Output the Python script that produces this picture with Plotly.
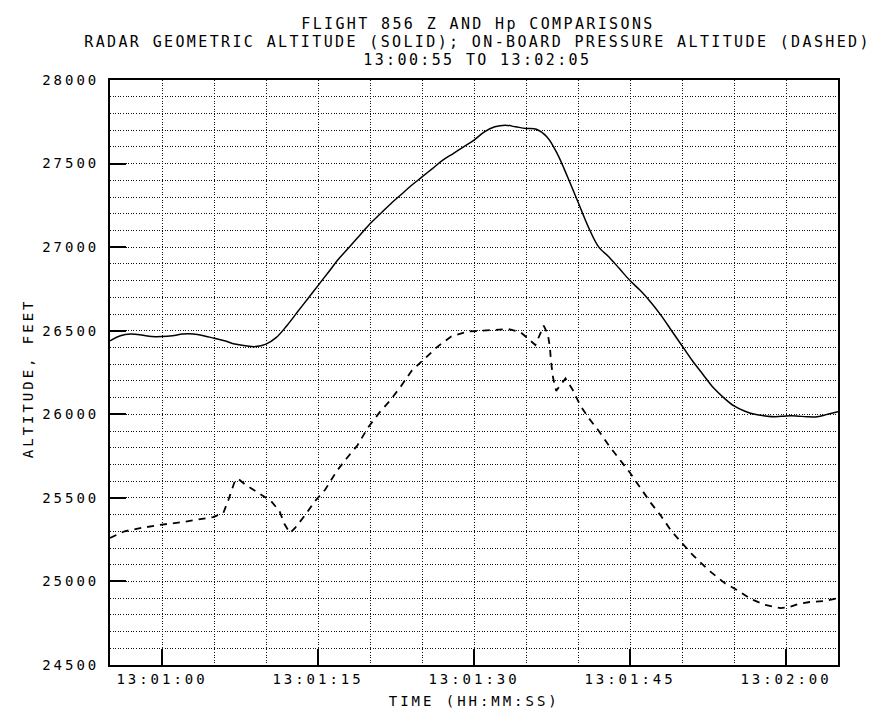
import plotly.graph_objects as go

# seconds after 13:00:00
radar_t = [55, 56, 57, 58, 59, 60, 61, 62, 63, 64, 65, 66, 67, 68, 69, 70, 71, 72, 73, 74,
           75, 76, 77, 78, 79, 80, 81, 82, 83, 84, 85, 86, 87, 88, 89, 90, 91, 92, 93, 94,
           95, 96, 97, 98, 99, 100, 101, 102, 103, 104, 105, 106, 107, 108, 109, 110, 111,
           112, 113, 114, 115, 116, 117, 118, 119, 120, 121, 122, 123, 124, 125]
radar_alt = [26440, 26470, 26480, 26475, 26465, 26465, 26470, 26480, 26480, 26470, 26455,
             26440, 26420, 26410, 26405, 26420, 26460, 26530, 26610, 26690, 26770, 26850,
             26930, 27000, 27070, 27140, 27200, 27260, 27315, 27370, 27420, 27470, 27520,
             27560, 27600, 27640, 27690, 27720, 27730, 27720, 27710, 27705, 27660, 27560,
             27420, 27270, 27120, 27000, 26940, 26870, 26800, 26740, 26670, 26590, 26500,
             26410, 26320, 26240, 26160, 26100, 26050, 26020, 26000, 25990, 25985, 25990,
             25990, 25985, 25985, 26000, 26015]

press_t = [55, 56.4, 58, 60, 62, 63.5, 64.9, 65.9, 66.4, 67, 67.3, 68, 69.5, 70.5, 71.3,
           71.8, 72.3, 72.8, 73.8, 74.7, 75.7, 76.8, 77.8, 78.8, 79.8, 80.9, 81.9, 83, 84,
           85.3, 86.5, 87.8, 89.4, 90.7, 92, 93.3, 94.5, 95.9, 96.7, 97.1, 97.3, 97.4, 97.6,
           97.9, 98.8, 99.5, 100.2, 101, 102, 103, 104, 105, 106, 107, 108, 109, 110, 111,
           112, 112.7, 114.1, 115.4, 116.6, 118, 119.5, 120.2, 121.2, 122.3, 123.8, 125]
press_alt = [25260, 25300, 25320, 25340, 25355, 25370, 25385, 25410, 25490, 25600, 25615,
             25580, 25520, 25480, 25420, 25340, 25290, 25320, 25400, 25480, 25550, 25660,
             25740, 25815, 25920, 26010, 26080, 26170, 26260, 26335, 26405, 26465, 26495,
             26500, 26505, 26510, 26490, 26415, 26530, 26480, 26400, 26320, 26220, 26140,
             26215, 26145, 26055, 25980, 25900, 25810, 25730, 25650, 25560, 25470, 25390,
             25300, 25230, 25160, 25100, 25060, 24990, 24945, 24895, 24860, 24840, 24845,
             24865, 24877, 24883, 24900]

x_tick_vals = [60, 75, 90, 105, 120]
x_tick_text = ["13:01:00", "13:01:15", "13:01:30", "13:01:45", "13:02:00"]
y_tick_vals = [24500, 25000, 25500, 26000, 26500, 27000, 27500, 28000]
y_tick_text = ["24500", "25000", "25500", "26000", "26500", "27000", "27500", "28000"]

title_lines = ["FLIGHT 856 Z AND Hp COMPARISONS",
               "RADAR GEOMETRIC ALTITUDE (SOLID); ON-BOARD PRESSURE ALTITUDE (DASHED)",
               "13:00:55 TO 13:02:05"]
x_title = "TIME (HH:MM:SS)"
y_title = "ALTITUDE, FEET"

FONT = "DejaVu Sans Mono"
TXT = dict(family=FONT, size=14, color="black")
TITLE_TXT = dict(family=FONT, size=15, color="black")

fig = go.Figure()
fig.add_trace(go.Scatter(x=radar_t, y=radar_alt, mode="lines",
                         line=dict(color="black", width=1.5), line_shape="spline",
                         showlegend=False))
fig.add_trace(go.Scatter(x=press_t, y=press_alt, mode="lines",
                         line=dict(color="black", width=1.8, dash="7px,6px"),
                         showlegend=False))

grid = dict(showgrid=True, gridcolor="#111", gridwidth=1, griddash="1px,1.6px")
axis_common = dict(showline=True, linecolor="black", linewidth=2, mirror=True,
                   ticks="inside", ticklen=16, tickwidth=2, tickcolor="black",
                   zeroline=False, tickfont=TXT, **grid)

fig.update_xaxes(range=[55, 125], tickvals=x_tick_vals, ticktext=x_tick_text,
                 minor=dict(dtick=5, tick0=55, ticks="", **grid), **axis_common)
fig.update_yaxes(range=[24500, 28000], tickvals=y_tick_vals, ticktext=y_tick_text,
                 ticklabelstandoff=6,
                 minor=dict(dtick=100, tick0=24500, ticks="", **grid), **axis_common)

L, R, T, B = 102, 45, 72, 51
PW = 875 - L - R
PH = 708 - T - B

for i, line in enumerate(title_lines):
    fig.add_annotation(text=line, xref="paper", x=0.505, yref="paper", y=1.0,
                       yanchor="middle", yshift=T - 16 - 18 * i,
                       showarrow=False, font=TITLE_TXT)

fig.add_annotation(text=x_title, xref="paper", x=0.5, yref="paper", y=0.0,
                   yanchor="middle", yshift=-36, showarrow=False, font=TXT)
fig.add_annotation(text=y_title, xref="paper", x=(20 - L) / PW, xanchor="center",
                   yref="paper", y=0.49, yanchor="middle", textangle=-90,
                   showarrow=False, font=TXT)

fig.update_layout(width=875, height=708,
                  margin=dict(l=L, r=R, t=T, b=B, autoexpand=False),
                  paper_bgcolor="white", plot_bgcolor="white")

# wide plotter-style lettering: a constant character pitch of ~11.4 px
post = """
var gd = document.getElementById('{plot_id}');
function widen(){
  gd.querySelectorAll('text').forEach(function(t){
    var fs = parseFloat(t.style.fontSize) || 14;
    var sp = Math.max(0, 11.4 - 0.602 * fs);
    t.style.letterSpacing = sp.toFixed(2) + 'px';
  });
}
widen();
gd.on('plotly_afterplot', widen);
"""
fig.write_html("out.html", post_script=post)
